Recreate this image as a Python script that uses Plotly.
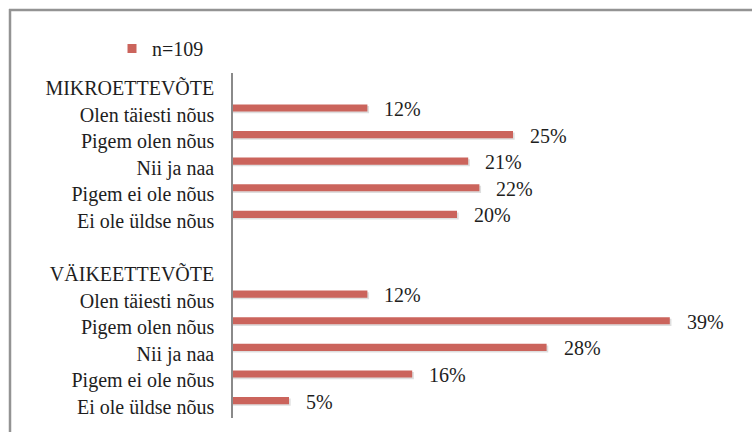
import plotly.graph_objects as go

categories = ["MIKROETTEVÕTE", "Olen täiesti nõus", "Pigem olen nõus", "Nii ja naa",
              "Pigem ei ole nõus", "Ei ole üldse nõus", "",
              "VÄIKEETTEVÕTE", "Olen täiesti nõus", "Pigem olen nõus", "Nii ja naa",
              "Pigem ei ole nõus", "Ei ole üldse nõus"]
values = [None, 12, 25, 21, 22, 20, None, None, 12, 39, 28, 16, 5]
series_name = "n=109"

BAR = "#CB645C"
TXT = "#1e1e1e"
FONT = "Liberation Serif"
FS = 20

pos = list(range(len(categories)))
bw = 0.27
shift = -0.245  # bar centre sits above its category label

fig = go.Figure()
# soft drop shadow under the bars
fig.add_trace(go.Bar(
    y=pos, x=[None if v is None else v + 0.15 for v in values], orientation="h",
    width=bw, offset=shift - bw / 2 + 0.06,
    marker=dict(color="rgba(0,0,0,0.13)", line=dict(width=0)),
    showlegend=False, hoverinfo="skip",
))
fig.add_trace(go.Bar(
    y=pos, x=values, orientation="h",
    width=bw, offset=shift - bw / 2,
    marker=dict(color=BAR, line=dict(width=0)),
    showlegend=False, hovertemplate="%{x}%<extra></extra>",
))
fig.add_trace(go.Scatter(
    x=[None], y=[None], mode="markers", name=series_name,
    marker=dict(symbol="square", size=9, color=BAR), showlegend=True,
))

annotations = []
for p, v in zip(pos, values):
    if v is None:
        continue
    annotations.append(dict(
        x=v, y=p + shift, xref="x", yref="y", text=f"{v}%", showarrow=False,
        xanchor="left", yanchor="middle", xshift=15, yshift=-1,
        font=dict(family=FONT, size=FS, color=TXT),
    ))

W, H = 752, 432
ml, mr, mt, mb = 233, 15, 73, 14
pw, ph = W - ml - mr, H - mt - mb

def px_x(x):
    return (x - ml) / pw

def px_y(y):
    return (H - mb - y) / ph

shapes = [
    dict(type="line", xref="paper", yref="paper", x0=px_x(9), x1=px_x(800),
         y0=px_y(10), y1=px_y(10), line=dict(color="#939393", width=2.5)),
    dict(type="line", xref="paper", yref="paper", x0=px_x(10), x1=px_x(10),
         y0=px_y(9), y1=px_y(480), line=dict(color="#939393", width=2.5)),
]

fig.update_layout(
    width=W, height=H,
    margin=dict(l=ml, r=mr, t=mt, b=mb, pad=0),
    paper_bgcolor="white", plot_bgcolor="white",
    font=dict(family=FONT, size=FS, color=TXT),
    barmode="overlay",
    showlegend=True,
    legend=dict(x=px_x(112), y=px_y(29), xanchor="left", yanchor="top",
                bgcolor="rgba(0,0,0,0)", borderwidth=0,
                font=dict(family=FONT, size=FS, color=TXT)),
    xaxis=dict(range=[0, pw / 11.2], visible=False, fixedrange=True),
    yaxis=dict(tickvals=pos, ticktext=categories, range=[12.41, -0.56],
               showline=True, linecolor="#8a8a8a", linewidth=1.5,
               showgrid=False, zeroline=False, ticks="",
               ticklabelstandoff=13, fixedrange=True,
               tickfont=dict(family=FONT, size=FS, color=TXT)),
    annotations=annotations,
    shapes=shapes,
)

fig.write_html("out.html", config={"displayModeBar": False},
               post_script="document.body.style.margin='0';document.body.style.overflow='hidden';")
